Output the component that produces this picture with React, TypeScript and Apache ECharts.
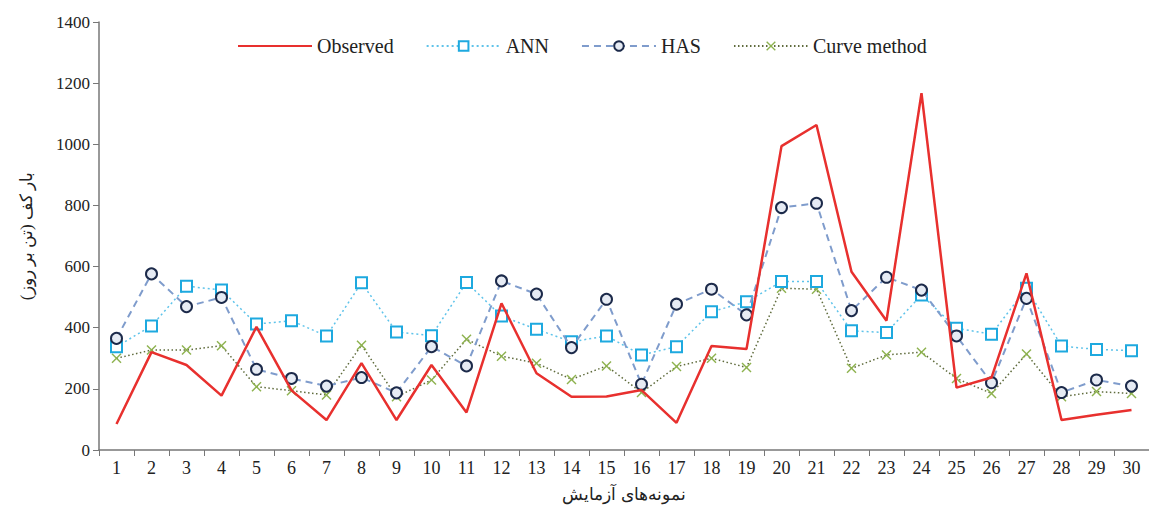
import React, { useEffect, useRef } from "react";
import * as echarts from "echarts";

const categories = Array.from({ length: 30 }, (_, i) => String(i + 1));
const observed = [85, 320, 278, 178, 403, 195, 98, 284, 98, 278, 123, 480, 251, 174, 175, 196, 89, 340, 330, 994, 1063, 583, 423, 1167, 204, 237, 578, 98, 115, 131];
const ann = [338, 406, 536, 523, 412, 423, 373, 547, 386, 374, 548, 438, 395, 354, 373, 311, 338, 452, 485, 551, 551, 390, 384, 507, 398, 379, 529, 340, 329, 325];
const has = [365, 576, 469, 499, 264, 234, 209, 237, 187, 338, 275, 553, 510, 335, 493, 215, 477, 526, 442, 793, 807, 456, 565, 523, 373, 220, 496, 188, 229, 209];
const curve = [300, 327, 327, 341, 207, 194, 180, 343, 174, 229, 362, 307, 284, 231, 275, 188, 273, 300, 270, 529, 526, 267, 311, 320, 234, 185, 314, 174, 191, 185];

const FONT = "'Liberation Serif', 'DejaVu Serif', serif";
const X_SYMBOL = "path://M0,1 L1,0 L5,4 L9,0 L10,1 L6,5 L10,9 L9,10 L5,6 L1,10 L0,9 L4,5 Z";

export default function App() {
  const ref = useRef<HTMLDivElement>(null);
  useEffect(() => {
    if (!ref.current) return;
    const chart = echarts.init(ref.current, null, { renderer: "svg" });
    chart.setOption({
      animation: false,
      backgroundColor: "#ffffff",
      textStyle: { fontFamily: FONT },
      legend: {
        top: 31,
        left: 232,
        itemWidth: 74,
        itemHeight: 12,
        itemGap: 32,
        textStyle: { fontFamily: FONT, fontSize: 20, color: "#222" },
        data: [
          { name: "Observed", itemStyle: { color: "rgba(0,0,0,0)", borderWidth: 0, opacity: 0 } },
          "ANN",
          "HAS",
          "Curve method",
        ],
      },
      grid: { left: 99, right: 0, top: 22, bottom: 63 },
      xAxis: {
        type: "category",
        data: categories,
        boundaryGap: true,
        name: "نمونه‌های آزمایش",
        nameLocation: "middle",
        nameGap: 36,
        nameTextStyle: { fontFamily: FONT, fontSize: 17, color: "#222" },
        axisLine: { lineStyle: { color: "#777", width: 1.5 } },
        axisTick: { show: true, length: 6, lineStyle: { color: "#777" } },
        axisLabel: { fontFamily: FONT, fontSize: 18, color: "#222", margin: 9 },
        splitLine: { show: false },
      },
      yAxis: {
        type: "value",
        min: 0,
        max: 1400,
        interval: 200,
        name: "بار کف (تن بر روز)",
        nameLocation: "middle",
        nameGap: 64,
        nameTextStyle: { fontFamily: FONT, fontSize: 17, color: "#222" },
        axisLine: { show: true, lineStyle: { color: "#777", width: 1.5 } },
        axisTick: { show: true, length: 6, lineStyle: { color: "#777" } },
        axisLabel: {
          fontFamily: FONT,
          fontSize: 17,
          color: "#222",
          margin: 9,
          formatter: (v: number) => String(v),
        },
        splitLine: { show: false },
      },
      series: [
        {
          name: "Observed",
          type: "line",
          data: observed,
          showSymbol: false,
          symbol: "none",
          lineStyle: { color: "#e8302e", width: 2.5 },
          itemStyle: { color: "#e8302e" },
          z: 5,
        },
        {
          name: "ANN",
          type: "line",
          data: ann,
          symbol: "rect",
          symbolSize: 11,
          lineStyle: { color: "#5ec3ea", width: 1.5, type: [2, 3] },
          itemStyle: { color: "#ffffff", borderColor: "#1ea9df", borderWidth: 2 },
          z: 3,
        },
        {
          name: "HAS",
          type: "line",
          data: has,
          symbol: "circle",
          symbolSize: 11,
          lineStyle: { color: "#7f9ccc", width: 2, type: [7, 5] },
          itemStyle: { color: "#e6ebf4", borderColor: "#1c2a4a", borderWidth: 2 },
          z: 4,
        },
        {
          name: "Curve method",
          type: "line",
          data: curve,
          symbol: X_SYMBOL,
          symbolSize: 10,
          lineStyle: { color: "#5f6b3c", width: 1.5, type: [1.5, 2.5] },
          itemStyle: { color: "#8db24e" },
          z: 2,
        },
      ],
    });
    return () => chart.dispose();
  }, []);
  return (
    <div
      ref={ref}
      style={{ position: "absolute", left: 0, top: 0, width: 1149, height: 513, background: "#fff" }}
    />
  );
}
